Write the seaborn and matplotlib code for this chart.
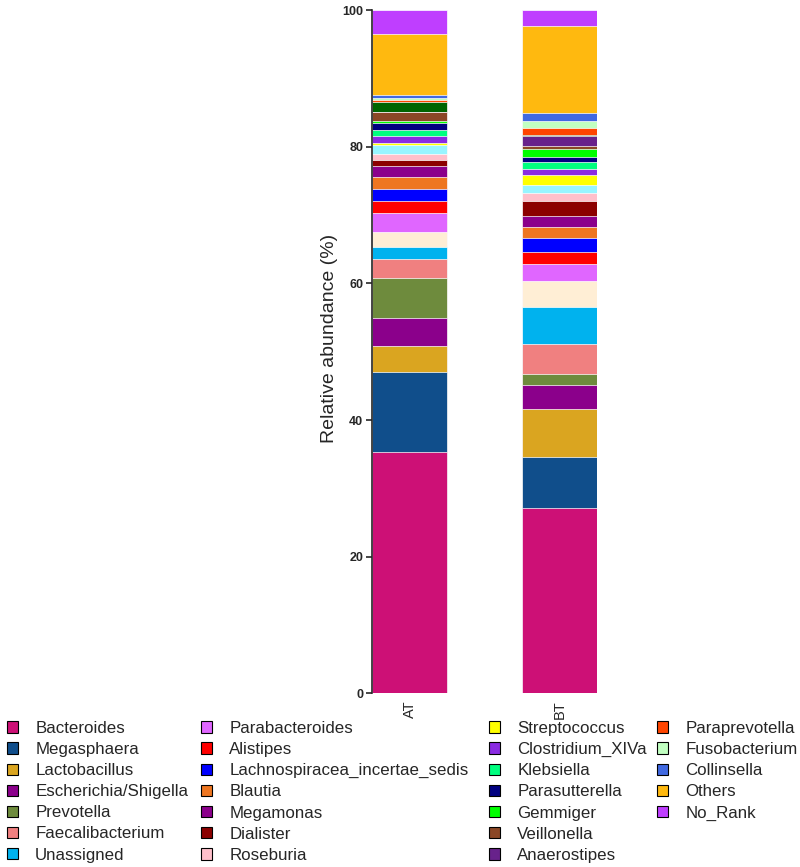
import numpy as np
import pandas as pd
import matplotlib
matplotlib.use("Agg")
import matplotlib.pyplot as plt
import seaborn as sns
from matplotlib.patches import Patch

# -----------------------------------
# DATA (relative abundance, %)
# -----------------------------------

samples = ["AT", "BT"]

# stacking order, bottom to top
taxa = [
    "Bacteroides", "Megasphaera", "Lactobacillus", "Escherichia/Shigella",
    "Prevotella", "Faecalibacterium", "Unassigned", "unlabeled_1",
    "Parabacteroides", "Alistipes", "Lachnospiracea_incertae_sedis", "Blautia",
    "Megamonas", "Dialister", "Roseburia", "unlabeled_2",
    "Streptococcus", "Clostridium_XIVa", "Klebsiella", "Parasutterella",
    "Gemmiger", "Veillonella", "Anaerostipes", "unlabeled_3",
    "Paraprevotella", "Fusobacterium", "Collinsella", "Others", "No_Rank",
]

at_values = [35.3, 11.8, 3.7, 4.2, 5.8, 2.8, 1.8, 2.1,
             2.8, 1.8, 1.7, 1.8, 1.6, 0.8, 1.0, 1.2,
             0.3, 1.0, 1.0, 0.9, 0.4, 1.3, 0.0, 1.5,
             0.3, 0.3, 0.3, 9.0, 3.5]

bt_values = [27.1, 7.5, 7.0, 3.5, 1.6, 4.4, 5.5, 3.7,
             2.5, 1.8, 2.0, 1.7, 1.6, 2.2, 1.1, 1.2,
             1.5, 0.9, 0.9, 0.8, 1.2, 0.4, 1.4, 0.2,
             1.1, 1.0, 1.1, 12.7, 2.4]

colors = [
    "#CD1076", "#104E8B", "#DAA520", "#8B008B",
    "#6E8B3D", "#F08080", "#00B2EE", "#FFEED5",
    "#E066FF", "#FF0000", "#0000FF", "#EE7621",
    "#8B008B", "#8B0000", "#FFC0CB", "#98F5FF",
    "#FFFF00", "#8A2BE2", "#00FF7F", "#000080",
    "#00FF00", "#8B4726", "#68228B", "#006400",
    "#FF4500", "#C1FFC1", "#4169E1", "#FFB90F", "#BF3EFF",
]

# legend columns as shown in the figure
legend_cols = [
    ["Bacteroides", "Megasphaera", "Lactobacillus", "Escherichia/Shigella",
     "Prevotella", "Faecalibacterium", "Unassigned"],
    ["Parabacteroides", "Alistipes", "Lachnospiracea_incertae_sedis", "Blautia",
     "Megamonas", "Dialister", "Roseburia"],
    ["Streptococcus", "Clostridium_XIVa", "Klebsiella", "Parasutterella",
     "Gemmiger", "Veillonella", "Anaerostipes"],
    ["Paraprevotella", "Fusobacterium", "Collinsella", "Others", "No_Rank"],
]

# -----------------------------------
# PLOT
# -----------------------------------

sns.set_style("ticks")
plt.rcParams["font.family"] = ["Liberation Sans", "DejaVu Sans"]

df = pd.DataFrame({"taxon": taxa, "AT": at_values, "BT": bt_values})
cum = df[samples].cumsum()

fig = plt.figure(figsize=(8, 8.67), dpi=100)
ax = fig.add_axes([0.4656, 0.2002, 0.28125, 0.7882])

# draw cumulative bars from the top segment down so lower ones cover
for i in reversed(range(len(taxa))):
    sns.barplot(x=samples, y=cum.loc[i, samples].values, color=colors[i],
                width=0.5, saturation=1, errorbar=None,
                edgecolor="white", linewidth=0.5, ax=ax)

ax.set_xlim(-0.25, 1.25)
ax.set_ylim(0, 100)
ax.set_yticks([0, 20, 40, 60, 80, 100])

for s in ["top", "right", "bottom"]:
    ax.spines[s].set_visible(False)
ax.spines["left"].set_linewidth(1.2)

ax.tick_params(axis="y", length=4.3, width=1.2, pad=2.5, labelsize=9)
for lab in ax.get_yticklabels():
    lab.set_fontweight("bold")
ax.tick_params(axis="x", length=0, pad=5, labelsize=10.5, rotation=90)

ax.set_xlabel("")
ax.set_ylabel("Relative abundance (%)", fontsize=14)
ax.yaxis.set_label_coords(-0.153, 0.52)

color_of = dict(zip(taxa, colors))
col_x = [7, 201, 489, 657]
for names, x in zip(legend_cols, col_x):
    handles = [Patch(facecolor=color_of[n], edgecolor="black", linewidth=0.8)
               for n in names]
    fig.legend(handles, names, loc="upper left",
               bbox_to_anchor=(x / 800, 1 - 721 / 867),
               frameon=False, fontsize=12.2, borderpad=0, borderaxespad=0,
               handlelength=0.66, handleheight=0.66, handletextpad=1.0,
               labelspacing=0.36)

fig.savefig("out.png", dpi=100)
